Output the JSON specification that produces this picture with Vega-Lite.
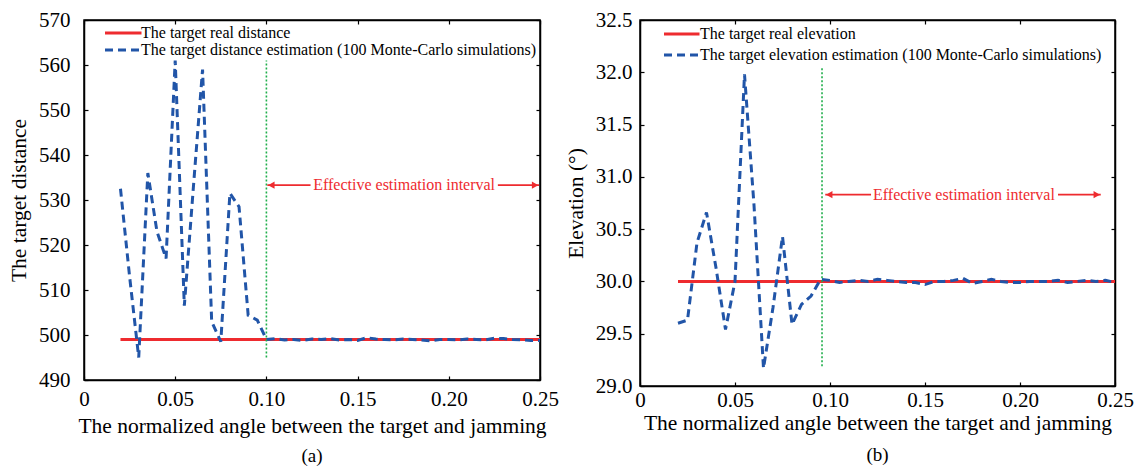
{
  "$schema": "https://vega.github.io/schema/vega-lite/v6.json",
  "padding": {"left": 7, "top": 8, "right": 5, "bottom": 5},
  "background": "white",
  "spacing": 100,
  "bounds": "flush",
  "datasets": {
    "dist": [
      {"a": 0.02, "v": 499, "s": "The target real distance"},
      {"a": 0.25, "v": 499, "s": "The target real distance"},
      {"a": 0.020, "v": 532.5, "s": "The target distance estimation (100 Monte-Carlo simulations)"},
      {"a": 0.025, "v": 513, "s": "The target distance estimation (100 Monte-Carlo simulations)"},
      {"a": 0.030, "v": 495, "s": "The target distance estimation (100 Monte-Carlo simulations)"},
      {"a": 0.035, "v": 536, "s": "The target distance estimation (100 Monte-Carlo simulations)"},
      {"a": 0.040, "v": 523, "s": "The target distance estimation (100 Monte-Carlo simulations)"},
      {"a": 0.045, "v": 517, "s": "The target distance estimation (100 Monte-Carlo simulations)"},
      {"a": 0.050, "v": 561, "s": "The target distance estimation (100 Monte-Carlo simulations)"},
      {"a": 0.055, "v": 506.5, "s": "The target distance estimation (100 Monte-Carlo simulations)"},
      {"a": 0.060, "v": 533, "s": "The target distance estimation (100 Monte-Carlo simulations)"},
      {"a": 0.065, "v": 559, "s": "The target distance estimation (100 Monte-Carlo simulations)"},
      {"a": 0.070, "v": 503, "s": "The target distance estimation (100 Monte-Carlo simulations)"},
      {"a": 0.075, "v": 498.5, "s": "The target distance estimation (100 Monte-Carlo simulations)"},
      {"a": 0.080, "v": 531.5, "s": "The target distance estimation (100 Monte-Carlo simulations)"},
      {"a": 0.085, "v": 528.5, "s": "The target distance estimation (100 Monte-Carlo simulations)"},
      {"a": 0.090, "v": 504.4, "s": "The target distance estimation (100 Monte-Carlo simulations)"},
      {"a": 0.095, "v": 503.3, "s": "The target distance estimation (100 Monte-Carlo simulations)"},
      {"a": 0.100, "v": 499.0, "s": "The target distance estimation (100 Monte-Carlo simulations)"},
      {"a": 0.105, "v": 499.2, "s": "The target distance estimation (100 Monte-Carlo simulations)"},
      {"a": 0.110, "v": 498.9, "s": "The target distance estimation (100 Monte-Carlo simulations)"},
      {"a": 0.115, "v": 499.0, "s": "The target distance estimation (100 Monte-Carlo simulations)"},
      {"a": 0.120, "v": 498.8, "s": "The target distance estimation (100 Monte-Carlo simulations)"},
      {"a": 0.125, "v": 499.1, "s": "The target distance estimation (100 Monte-Carlo simulations)"},
      {"a": 0.130, "v": 499.0, "s": "The target distance estimation (100 Monte-Carlo simulations)"},
      {"a": 0.135, "v": 499.2, "s": "The target distance estimation (100 Monte-Carlo simulations)"},
      {"a": 0.140, "v": 498.9, "s": "The target distance estimation (100 Monte-Carlo simulations)"},
      {"a": 0.145, "v": 499.0, "s": "The target distance estimation (100 Monte-Carlo simulations)"},
      {"a": 0.150, "v": 498.8, "s": "The target distance estimation (100 Monte-Carlo simulations)"},
      {"a": 0.155, "v": 499.4, "s": "The target distance estimation (100 Monte-Carlo simulations)"},
      {"a": 0.160, "v": 499.1, "s": "The target distance estimation (100 Monte-Carlo simulations)"},
      {"a": 0.165, "v": 499.0, "s": "The target distance estimation (100 Monte-Carlo simulations)"},
      {"a": 0.170, "v": 498.9, "s": "The target distance estimation (100 Monte-Carlo simulations)"},
      {"a": 0.175, "v": 499.1, "s": "The target distance estimation (100 Monte-Carlo simulations)"},
      {"a": 0.180, "v": 499.0, "s": "The target distance estimation (100 Monte-Carlo simulations)"},
      {"a": 0.185, "v": 498.9, "s": "The target distance estimation (100 Monte-Carlo simulations)"},
      {"a": 0.190, "v": 498.7, "s": "The target distance estimation (100 Monte-Carlo simulations)"},
      {"a": 0.195, "v": 499.0, "s": "The target distance estimation (100 Monte-Carlo simulations)"},
      {"a": 0.200, "v": 499.0, "s": "The target distance estimation (100 Monte-Carlo simulations)"},
      {"a": 0.205, "v": 498.9, "s": "The target distance estimation (100 Monte-Carlo simulations)"},
      {"a": 0.210, "v": 499.1, "s": "The target distance estimation (100 Monte-Carlo simulations)"},
      {"a": 0.215, "v": 499.0, "s": "The target distance estimation (100 Monte-Carlo simulations)"},
      {"a": 0.220, "v": 498.9, "s": "The target distance estimation (100 Monte-Carlo simulations)"},
      {"a": 0.225, "v": 499.3, "s": "The target distance estimation (100 Monte-Carlo simulations)"},
      {"a": 0.230, "v": 499.2, "s": "The target distance estimation (100 Monte-Carlo simulations)"},
      {"a": 0.235, "v": 499.0, "s": "The target distance estimation (100 Monte-Carlo simulations)"},
      {"a": 0.240, "v": 498.9, "s": "The target distance estimation (100 Monte-Carlo simulations)"},
      {"a": 0.245, "v": 498.8, "s": "The target distance estimation (100 Monte-Carlo simulations)"},
      {"a": 0.250, "v": 498.8, "s": "The target distance estimation (100 Monte-Carlo simulations)"}
    ],
    "elev": [
      {"a": 0.02, "v": 30.0, "s": "The target real elevation"},
      {"a": 0.25, "v": 30.0, "s": "The target real elevation"},
      {"a": 0.020, "v": 29.60, "s": "The target elevation estimation (100 Monte-Carlo simulations)"},
      {"a": 0.025, "v": 29.63, "s": "The target elevation estimation (100 Monte-Carlo simulations)"},
      {"a": 0.030, "v": 30.37, "s": "The target elevation estimation (100 Monte-Carlo simulations)"},
      {"a": 0.035, "v": 30.66, "s": "The target elevation estimation (100 Monte-Carlo simulations)"},
      {"a": 0.040, "v": 30.13, "s": "The target elevation estimation (100 Monte-Carlo simulations)"},
      {"a": 0.045, "v": 29.54, "s": "The target elevation estimation (100 Monte-Carlo simulations)"},
      {"a": 0.050, "v": 30.0, "s": "The target elevation estimation (100 Monte-Carlo simulations)"},
      {"a": 0.055, "v": 31.98, "s": "The target elevation estimation (100 Monte-Carlo simulations)"},
      {"a": 0.060, "v": 30.73, "s": "The target elevation estimation (100 Monte-Carlo simulations)"},
      {"a": 0.065, "v": 29.17, "s": "The target elevation estimation (100 Monte-Carlo simulations)"},
      {"a": 0.070, "v": 29.75, "s": "The target elevation estimation (100 Monte-Carlo simulations)"},
      {"a": 0.075, "v": 30.43, "s": "The target elevation estimation (100 Monte-Carlo simulations)"},
      {"a": 0.080, "v": 29.59, "s": "The target elevation estimation (100 Monte-Carlo simulations)"},
      {"a": 0.085, "v": 29.78, "s": "The target elevation estimation (100 Monte-Carlo simulations)"},
      {"a": 0.090, "v": 29.86, "s": "The target elevation estimation (100 Monte-Carlo simulations)"},
      {"a": 0.095, "v": 30.02, "s": "The target elevation estimation (100 Monte-Carlo simulations)"},
      {"a": 0.100, "v": 30.01, "s": "The target elevation estimation (100 Monte-Carlo simulations)"},
      {"a": 0.105, "v": 29.99, "s": "The target elevation estimation (100 Monte-Carlo simulations)"},
      {"a": 0.110, "v": 30.00, "s": "The target elevation estimation (100 Monte-Carlo simulations)"},
      {"a": 0.115, "v": 30.01, "s": "The target elevation estimation (100 Monte-Carlo simulations)"},
      {"a": 0.120, "v": 30.00, "s": "The target elevation estimation (100 Monte-Carlo simulations)"},
      {"a": 0.125, "v": 30.02, "s": "The target elevation estimation (100 Monte-Carlo simulations)"},
      {"a": 0.130, "v": 30.01, "s": "The target elevation estimation (100 Monte-Carlo simulations)"},
      {"a": 0.135, "v": 30.00, "s": "The target elevation estimation (100 Monte-Carlo simulations)"},
      {"a": 0.140, "v": 29.99, "s": "The target elevation estimation (100 Monte-Carlo simulations)"},
      {"a": 0.145, "v": 29.99, "s": "The target elevation estimation (100 Monte-Carlo simulations)"},
      {"a": 0.150, "v": 29.97, "s": "The target elevation estimation (100 Monte-Carlo simulations)"},
      {"a": 0.155, "v": 30.00, "s": "The target elevation estimation (100 Monte-Carlo simulations)"},
      {"a": 0.160, "v": 30.00, "s": "The target elevation estimation (100 Monte-Carlo simulations)"},
      {"a": 0.165, "v": 30.01, "s": "The target elevation estimation (100 Monte-Carlo simulations)"},
      {"a": 0.170, "v": 30.03, "s": "The target elevation estimation (100 Monte-Carlo simulations)"},
      {"a": 0.175, "v": 29.98, "s": "The target elevation estimation (100 Monte-Carlo simulations)"},
      {"a": 0.180, "v": 30.00, "s": "The target elevation estimation (100 Monte-Carlo simulations)"},
      {"a": 0.185, "v": 30.02, "s": "The target elevation estimation (100 Monte-Carlo simulations)"},
      {"a": 0.190, "v": 30.00, "s": "The target elevation estimation (100 Monte-Carlo simulations)"},
      {"a": 0.195, "v": 29.99, "s": "The target elevation estimation (100 Monte-Carlo simulations)"},
      {"a": 0.200, "v": 29.99, "s": "The target elevation estimation (100 Monte-Carlo simulations)"},
      {"a": 0.205, "v": 30.00, "s": "The target elevation estimation (100 Monte-Carlo simulations)"},
      {"a": 0.210, "v": 30.00, "s": "The target elevation estimation (100 Monte-Carlo simulations)"},
      {"a": 0.215, "v": 30.00, "s": "The target elevation estimation (100 Monte-Carlo simulations)"},
      {"a": 0.220, "v": 30.01, "s": "The target elevation estimation (100 Monte-Carlo simulations)"},
      {"a": 0.225, "v": 29.99, "s": "The target elevation estimation (100 Monte-Carlo simulations)"},
      {"a": 0.230, "v": 30.00, "s": "The target elevation estimation (100 Monte-Carlo simulations)"},
      {"a": 0.235, "v": 30.01, "s": "The target elevation estimation (100 Monte-Carlo simulations)"},
      {"a": 0.240, "v": 30.00, "s": "The target elevation estimation (100 Monte-Carlo simulations)"},
      {"a": 0.245, "v": 30.01, "s": "The target elevation estimation (100 Monte-Carlo simulations)"},
      {"a": 0.250, "v": 29.99, "s": "The target elevation estimation (100 Monte-Carlo simulations)"}
    ],
    "distGuide": [{"a": 0.1, "v1": 495, "v2": 561}],
    "distSeg": [{"a1": 0.1005, "a2": 0.1242, "v": 533.3}, {"a1": 0.2269, "a2": 0.2495, "v": 533.3}],
    "distHead": [{"a": 0.1027, "v": 533.3, "d": "left"}, {"a": 0.2473, "v": 533.3, "d": "right"}],
    "distText": [{"a": 0.1755, "v": 533.3, "t": "Effective estimation interval"}],
    "elevGuide": [{"a": 0.0958, "v1": 29.19, "v2": 32.04}],
    "elevSeg": [{"a1": 0.0975, "a2": 0.1216, "v": 30.83}, {"a1": 0.2200, "a2": 0.2425, "v": 30.83}],
    "elevHead": [{"a": 0.0996, "v": 30.83, "d": "left"}, {"a": 0.2404, "v": 30.83, "d": "right"}],
    "elevText": [{"a": 0.1705, "v": 30.83, "t": "Effective estimation interval"}]
  },
  "hconcat": [
    {
      "width": 456,
      "height": 360,
      "title": {"text": "(a)", "orient": "bottom", "offset": 10},
      "layer": [
        {
          "data": {"name": "dist"},
          "transform": [{"filter": "datum.s == 'The target real distance'"}],
          "mark": {"type": "line", "strokeWidth": 3},
          "encoding": {
            "x": {"field": "a", "type": "quantitative", "scale": {"domain": [0, 0.25], "nice": false},
                  "axis": {"orient": "bottom", "values": [0, 0.05, 0.1, 0.15, 0.2, 0.25], "labelExpr": "datum.value == 0 ? '0' : format(datum.value, '.2f')", "title": "The normalized angle between the target and jamming", "titlePadding": 6, "labelPadding": 12}},
            "y": {"field": "v", "type": "quantitative", "scale": {"domain": [490, 570], "nice": false, "zero": false},
                  "axis": {"orient": "left", "values": [490, 500, 510, 520, 530, 540, 550, 560, 570], "title": "The target distance", "labelPadding": 18, "titlePadding": 8}},
            "color": {"field": "s", "type": "nominal", "scale": {"domain": ["The target real distance", "The target distance estimation (100 Monte-Carlo simulations)"], "range": ["#ee2b2f", "#2155a8"]}, "legend": {"title": null, "offset": 5, "padding": 0, "rowPadding": 1, "symbolOffset": 7, "labelOffset": 29, "symbolType": "M0.2,0H7.5"}},
            "strokeDash": {"field": "s", "type": "nominal", "scale": {"domain": ["The target real distance", "The target distance estimation (100 Monte-Carlo simulations)"], "range": [[1, 0], [8, 5]]}, "legend": {"title": null, "offset": 5, "padding": 0, "rowPadding": 1, "symbolOffset": 7, "labelOffset": 29, "symbolType": "M0.2,0H7.5"}}
          }
        },
        {
          "data": {"name": "dist"},
          "transform": [{"filter": "datum.s != 'The target real distance'"}],
          "mark": {"type": "line", "strokeWidth": 3},
          "encoding": {
            "x": {"field": "a", "type": "quantitative", "axis": null},
            "y": {"field": "v", "type": "quantitative", "axis": null},
            "color": {"field": "s", "type": "nominal", "legend": {"title": null}},
            "strokeDash": {"field": "s", "type": "nominal", "legend": {"title": null}}
          }
        },
        {
          "data": {"name": "distGuide"},
          "mark": {"type": "rule", "color": "#1fae4b", "strokeWidth": 1.6, "strokeDash": [2, 2]},
          "encoding": {
            "x": {"field": "a", "type": "quantitative", "axis": {"orient": "top", "values": [0, 0.05, 0.1, 0.15, 0.2, 0.25], "labels": false, "title": null}},
            "y": {"field": "v1", "type": "quantitative", "axis": {"orient": "right", "values": [490, 500, 510, 520, 530, 540, 550, 560, 570], "labels": false, "title": null}},
            "y2": {"field": "v2"}
          }
        },
        {
          "data": {"name": "distSeg"},
          "mark": {"type": "rule", "color": "#ee2b2f", "strokeWidth": 1.8},
          "encoding": {
            "x": {"field": "a1", "type": "quantitative", "axis": null},
            "x2": {"field": "a2"},
            "y": {"field": "v", "type": "quantitative", "axis": null}
          }
        },
        {
          "data": {"name": "distHead"},
          "mark": {"type": "point", "filled": true, "color": "#ee2b2f", "size": 55, "opacity": 1},
          "encoding": {
            "x": {"field": "a", "type": "quantitative", "axis": null},
            "y": {"field": "v", "type": "quantitative", "axis": null},
            "shape": {"field": "d", "type": "nominal", "scale": {"domain": ["left", "right"], "range": ["triangle-left", "triangle-right"]}, "legend": null}
          }
        },
        {
          "data": {"name": "distText"},
          "mark": {"type": "text", "color": "#ee2b2f", "fontSize": 16, "font": "Liberation Serif", "align": "center", "baseline": "middle"},
          "encoding": {
            "x": {"field": "a", "type": "quantitative", "axis": null},
            "y": {"field": "v", "type": "quantitative", "axis": null},
            "text": {"field": "t"}
          }
        }
      ],
      "resolve": {"axis": {"x": "independent", "y": "independent"}}
    },
    {
      "width": 475,
      "height": 366,
      "title": {"text": "(b)", "orient": "bottom", "offset": 12},
      "layer": [
        {
          "data": {"name": "elev"},
          "transform": [{"filter": "datum.s == 'The target real elevation'"}],
          "mark": {"type": "line", "strokeWidth": 3},
          "encoding": {
            "x": {"field": "a", "type": "quantitative", "scale": {"domain": [0, 0.25], "nice": false},
                  "axis": {"orient": "bottom", "values": [0, 0.05, 0.1, 0.15, 0.2, 0.25], "labelExpr": "datum.value == 0 ? '0' : format(datum.value, '.2f')", "title": "The normalized angle between the target and jamming", "titlePadding": 2, "labelPadding": 7}},
            "y": {"field": "v", "type": "quantitative", "scale": {"domain": [29, 32.5], "nice": false, "zero": false},
                  "axis": {"orient": "left", "values": [29, 29.5, 30, 30.5, 31, 31.5, 32, 32.5], "format": ".1f", "title": "Elevation (°)", "labelPadding": 12, "titlePadding": 8}},
            "color": {"field": "s", "type": "nominal", "scale": {"domain": ["The target real elevation", "The target elevation estimation (100 Monte-Carlo simulations)"], "range": ["#ee2b2f", "#2155a8"]}, "legend": {"title": null, "offset": 6, "padding": 0, "rowPadding": 5, "symbolOffset": 6, "labelOffset": 32, "symbolType": "M0.8,0H7.9"}},
            "strokeDash": {"field": "s", "type": "nominal", "scale": {"domain": ["The target real elevation", "The target elevation estimation (100 Monte-Carlo simulations)"], "range": [[1, 0], [8, 5]]}, "legend": {"title": null, "offset": 6, "padding": 0, "rowPadding": 5, "symbolOffset": 6, "labelOffset": 32, "symbolType": "M0.8,0H7.9"}}
          }
        },
        {
          "data": {"name": "elev"},
          "transform": [{"filter": "datum.s != 'The target real elevation'"}],
          "mark": {"type": "line", "strokeWidth": 3},
          "encoding": {
            "x": {"field": "a", "type": "quantitative", "axis": null},
            "y": {"field": "v", "type": "quantitative", "axis": null},
            "color": {"field": "s", "type": "nominal", "legend": {"title": null}},
            "strokeDash": {"field": "s", "type": "nominal", "legend": {"title": null}}
          }
        },
        {
          "data": {"name": "elevGuide"},
          "mark": {"type": "rule", "color": "#1fae4b", "strokeWidth": 1.6, "strokeDash": [2, 2]},
          "encoding": {
            "x": {"field": "a", "type": "quantitative", "axis": {"orient": "top", "values": [0, 0.05, 0.1, 0.15, 0.2, 0.25], "labels": false, "title": null}},
            "y": {"field": "v1", "type": "quantitative", "axis": {"orient": "right", "values": [29, 29.5, 30, 30.5, 31, 31.5, 32, 32.5], "labels": false, "title": null}},
            "y2": {"field": "v2"}
          }
        },
        {
          "data": {"name": "elevSeg"},
          "mark": {"type": "rule", "color": "#ee2b2f", "strokeWidth": 1.8},
          "encoding": {
            "x": {"field": "a1", "type": "quantitative", "axis": null},
            "x2": {"field": "a2"},
            "y": {"field": "v", "type": "quantitative", "axis": null}
          }
        },
        {
          "data": {"name": "elevHead"},
          "mark": {"type": "point", "filled": true, "color": "#ee2b2f", "size": 55, "opacity": 1},
          "encoding": {
            "x": {"field": "a", "type": "quantitative", "axis": null},
            "y": {"field": "v", "type": "quantitative", "axis": null},
            "shape": {"field": "d", "type": "nominal", "scale": {"domain": ["left", "right"], "range": ["triangle-left", "triangle-right"]}, "legend": null}
          }
        },
        {
          "data": {"name": "elevText"},
          "mark": {"type": "text", "color": "#ee2b2f", "fontSize": 16, "font": "Liberation Serif", "align": "center", "baseline": "middle"},
          "encoding": {
            "x": {"field": "a", "type": "quantitative", "axis": null},
            "y": {"field": "v", "type": "quantitative", "axis": null},
            "text": {"field": "t"}
          }
        }
      ],
      "resolve": {"axis": {"x": "independent", "y": "independent"}}
    }
  ],
  "resolve": {"scale": {"color": "independent", "strokeDash": "independent", "shape": "independent"}, "legend": {"color": "independent", "strokeDash": "independent"}},
  "config": {
    "font": "Liberation Serif",
    "view": {"stroke": "black", "strokeWidth": 1.5},
    "title": {"font": "Liberation Serif", "fontSize": 19, "fontWeight": "normal", "color": "black"},
    "axis": {
      "labelFont": "Liberation Serif", "labelFontSize": 21, "labelColor": "black",
      "titleFont": "Liberation Serif", "titleFontSize": 21.5, "titleFontWeight": "normal", "titleColor": "black",
      "domainColor": "black", "domainWidth": 1.5, "tickColor": "black", "tickWidth": 1.2, "tickSize": -4,
      "labelPadding": 12, "grid": false, "labelFlush": false, "labelOverlap": false
    },
    "legend": {
      "orient": "top-left",
      "labelFont": "Liberation Serif", "labelFontSize": 16, "labelColor": "black", "labelLimit": 600,
      "symbolType": "M-1,0H7", "symbolSize": 100, "symbolStrokeWidth": 3, "labelOffset": 37
    }
  }
}
